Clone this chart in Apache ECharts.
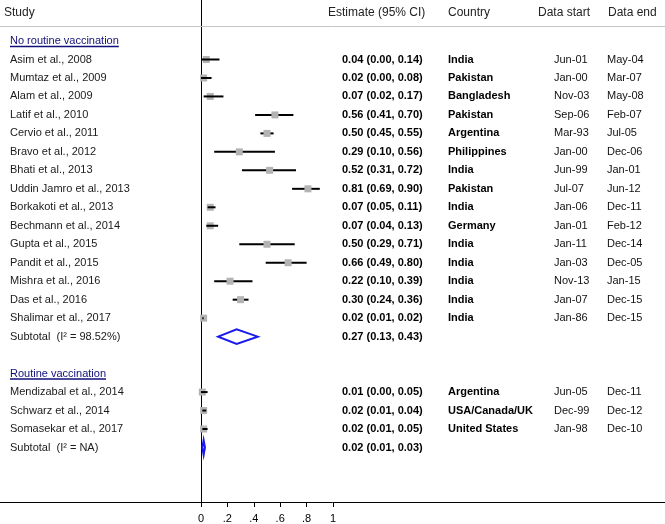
<!DOCTYPE html>
<html>
<head>
<meta charset="utf-8">
<script src="https://cdn.jsdelivr.net/npm/echarts@6/dist/echarts.min.js"></script>
<style>html,body{margin:0;padding:0;background:#fff}#c{width:665px;height:524px}</style>
</head>
<body>
<div id="c"></div>
<script>
const groupNames = ['No routine vaccination', 'Routine vaccination'];
const studyNames = ['Asim et al., 2008','Mumtaz et al., 2009','Alam et al., 2009','Latif et al., 2010','Cervio et al., 2011','Bravo et al., 2012','Bhati et al., 2013','Uddin Jamro et al., 2013','Borkakoti et al., 2013','Bechmann et al., 2014','Gupta et al., 2015','Pandit et al., 2015','Mishra et al., 2016','Das et al., 2016','Shalimar et al., 2017','Mendizabal et al., 2014','Schwarz et al., 2014','Somasekar et al., 2017'];
const studyGroup = [0,0,0,0,0,0,0,0,0,0,0,0,0,0,0,1,1,1];
const estimate = [0.04,0.02,0.07,0.56,0.50,0.29,0.52,0.81,0.07,0.07,0.50,0.66,0.22,0.30,0.02,0.01,0.02,0.02];
const lower    = [0.00,0.00,0.02,0.41,0.45,0.10,0.31,0.69,0.05,0.04,0.29,0.49,0.10,0.24,0.01,0.00,0.01,0.01];
const upper    = [0.14,0.08,0.17,0.70,0.55,0.56,0.72,0.90,0.11,0.13,0.71,0.80,0.39,0.36,0.02,0.05,0.04,0.05];
const countries = ['India','Pakistan','Bangladesh','Pakistan','Argentina','Philippines','India','Pakistan','India','Germany','India','India','India','India','India','Argentina','USA/Canada/UK','United States'];
const dataStart = ['Jun-01','Jan-00','Nov-03','Sep-06','Mar-93','Jan-00','Jun-99','Jul-07','Jan-06','Jan-01','Jan-11','Jan-03','Nov-13','Jan-07','Jan-86','Jun-05','Dec-99','Jan-98'];
const dataEnd   = ['May-04','Mar-07','May-08','Feb-07','Jul-05','Dec-06','Jan-01','Jun-12','Dec-11','Feb-12','Dec-14','Dec-05','Jan-15','Dec-15','Dec-15','Dec-11','Dec-12','Dec-10'];
const subtotalLabels = ['Subtotal  (I\u00B2 = 98.52%)', 'Subtotal  (I\u00B2 = NA)'];
const subEstimate = [0.27, 0.02];
const subLower = [0.13, 0.01];
const subUpper = [0.43, 0.03];
const xTickValues = [0, 0.2, 0.4, 0.6, 0.8, 1];
const xTickLabels = ['0', '.2', '.4', '.6', '.8', '1'];
const headers = ['Study', 'Estimate (95% CI)', 'Country', 'Data start', 'Data end'];

// row layout
const groupRow = [], studyRow = [], subRow = [];
let r = 0;
for (let g = 0; g < groupNames.length; g++) {
  groupRow[g] = r++;
  studyNames.forEach((n, i) => { if (studyGroup[i] === g) studyRow[i] = r++; });
  subRow[g] = r++;
  r++;
}

const FONT = "'Liberation Sans', Arial, Helvetica, sans-serif";
const fmt = (e, l, u) => e.toFixed(2) + ' (' + l.toFixed(2) + ', ' + u.toFixed(2) + ')';

// text columns: x pixel positions
const colX = [10, 342, 448, 554, 607];
const textItems = [];
groupNames.forEach((g, gi) => textItems.push({row: groupRow[gi], col: 0, text: g, weight: 'normal', color: '#10107a', underline: true}));
studyNames.forEach((n, i) => {
  textItems.push({row: studyRow[i], col: 0, text: n, weight: 'normal', color: '#1a1a1a'});
  textItems.push({row: studyRow[i], col: 1, text: fmt(estimate[i], lower[i], upper[i]), weight: 'bold', color: '#000'});
  textItems.push({row: studyRow[i], col: 2, text: countries[i], weight: 'bold', color: '#000'});
  textItems.push({row: studyRow[i], col: 3, text: dataStart[i], weight: 'normal', color: '#111'});
  textItems.push({row: studyRow[i], col: 4, text: dataEnd[i], weight: 'normal', color: '#111'});
});
subtotalLabels.forEach((s, gi) => {
  textItems.push({row: subRow[gi], col: 0, text: s, weight: 'normal', color: '#1a1a1a'});
  textItems.push({row: subRow[gi], col: 1, text: fmt(subEstimate[gi], subLower[gi], subUpper[gi]), weight: 'bold', color: '#000'});
});

const measureCtx = document.createElement('canvas').getContext('2d');
function textWidth(t, size, weight) {
  measureCtx.font = weight + ' ' + size + 'px ' + FONT;
  return measureCtx.measureText(t).width;
}

const chart = echarts.init(document.getElementById('c'), null, {renderer: 'canvas'});
const headerX = [4, 328, 448, 538, 608];
const BOX = 7;

chart.setOption({
  animation: false,
  backgroundColor: '#fff',
  grid: {left: 201, right: 332, top: 0, bottom: 22, containLabel: false},
  xAxis: {
    type: 'value', min: 0, max: 1, interval: 0.2, position: 'bottom',
    axisLine: {show: false, onZero: false},
    axisTick: {show: true, length: 5, lineStyle: {color: '#000', width: 1}},
    axisLabel: {margin: 11, fontSize: 11, color: '#000', fontFamily: FONT,
      formatter: v => { const k = xTickValues.findIndex(t => Math.abs(t - v) < 1e-9); return k >= 0 ? xTickLabels[k] : ''; }},
    splitLine: {show: false}
  },
  yAxis: {
    type: 'value', min: -2.22, max: 24.95, inverse: true,
    axisLine: {show: true, onZero: false, lineStyle: {color: '#000', width: 1}},
    axisTick: {show: false}, axisLabel: {show: false}, splitLine: {show: false}
  },
  graphic: [
    {type: 'line', shape: {x1: 0, y1: 26.5, x2: 665, y2: 26.5}, style: {stroke: '#c4c4c4', lineWidth: 1}, z: 10},
    {type: 'line', shape: {x1: 0, y1: 502.5, x2: 665, y2: 502.5}, style: {stroke: '#000', lineWidth: 1}, z: 10}
  ].concat(headers.map((h, i) => ({
    type: 'text', x: headerX[i], y: 13, z: 10,
    style: {text: h, fill: '#222', font: '12px ' + FONT, textVerticalAlign: 'middle', verticalAlign: 'middle'}
  }))),
  series: [
    {
      type: 'custom', name: 'studies', z: 3,
      data: studyNames.map((n, i) => [estimate[i], lower[i], upper[i], studyRow[i]]),
      renderItem: (params, api) => {
        const row = api.value(3), e = api.value(0);
        const c = api.coord([e, row]);
        const a = api.coord([api.value(1), row]);
        const b = api.coord([api.value(2), row]);
        const line = {type: 'line', shape: {x1: a[0], y1: a[1], x2: b[0], y2: b[1]}, style: {stroke: '#000', lineWidth: 2}};
        const box = {type: 'rect', shape: {x: c[0] - BOX / 2, y: c[1] - BOX / 2, width: BOX, height: BOX}, style: {fill: '#b3b3b3'}};
        // near-zero studies: CI line drawn over the box; otherwise box over line
        const children = e < 0.1 ? [box, line] : [line, box];
        return {type: 'group', children: children};
      }
    },
    {
      type: 'custom', name: 'subtotal', z: 4,
      data: subEstimate.map((e, g) => [subLower[g], e, subUpper[g], subRow[g]]),
      renderItem: (params, api) => {
        const row = api.value(3), h = 0.4;
        const p1 = api.coord([api.value(0), row]);
        const p2 = api.coord([api.value(1), row - h]);
        const p3 = api.coord([api.value(2), row]);
        const p4 = api.coord([api.value(1), row + h]);
        return {type: 'polygon', shape: {points: [p1, p2, p3, p4]}, style: {fill: 'none', stroke: '#1a1aee', lineWidth: 2}};
      }
    },
    {
      type: 'custom', name: 'text', z: 5, clip: false,
      data: textItems.map(t => [0, t.row]),
      renderItem: (params, api) => {
        const t = textItems[params.dataIndex];
        const y = api.coord([0, t.row])[1];
        const x = colX[t.col];
        const children = [{
          type: 'text', x: x, y: y,
          style: {text: t.text, fill: t.color, font: t.weight + ' 11px ' + FONT, verticalAlign: 'middle', textVerticalAlign: 'middle'}
        }];
        if (t.underline) {
          const w = textWidth(t.text, 11, t.weight);
          children.push({type: 'line', shape: {x1: x, y1: y + 5.5, x2: x + w, y2: y + 5.5}, style: {stroke: t.color, lineWidth: 1.5}});
        }
        return {type: 'group', children: children};
      }
    }
  ]
});
</script>
</body>
</html>
